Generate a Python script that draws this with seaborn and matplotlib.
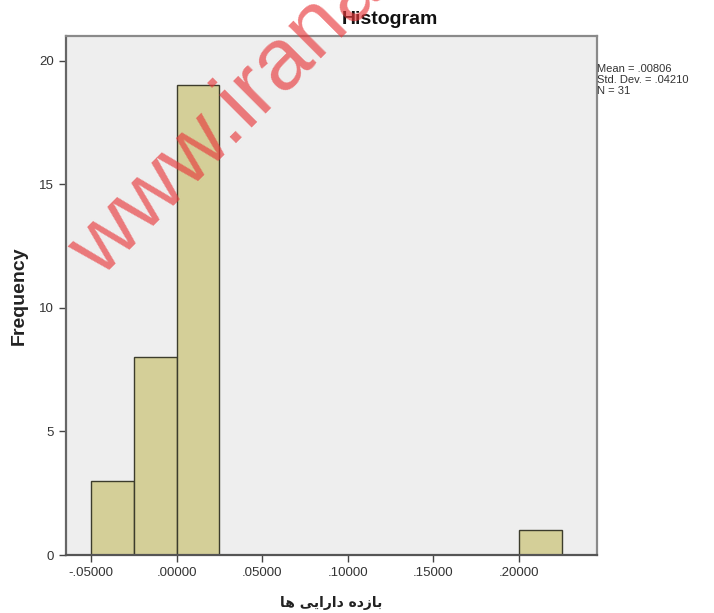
import numpy as np
import pandas as pd
import matplotlib
matplotlib.use("Agg")
import matplotlib.pyplot as plt
import seaborn as sns

# Histogram of asset returns (bin edges and counts per bin)
bin_edges = [-0.05, -0.025, 0.0, 0.025, 0.05, 0.075, 0.1, 0.125, 0.15, 0.175, 0.2, 0.225]
bin_counts = [3, 8, 19, 0, 0, 0, 0, 0, 0, 0, 1]
x_ticks = [-0.05, 0.0, 0.05, 0.10, 0.15, 0.20]
x_tick_labels = ["-.05000", ".00000", ".05000", ".10000", ".15000", ".20000"]
y_ticks = [0, 5, 10, 15, 20]
stats_lines = ["Mean = .00806", "Std. Dev. = .04210", "N = 31"]
# "بازده دارایی ها" in presentation forms, visual left-to-right order
x_label = "\uFE8E\uFEEB \uFBFD\uFBFE\uFE8D\uFEAD\uFE8D\uFEA9 \uFEE9\uFEA9\uFEAF\uFE8E\uFE91"

centers = [(a + b) / 2 for a, b in zip(bin_edges[:-1], bin_edges[1:])]
df = pd.DataFrame({"value": centers, "count": bin_counts})

sns.set_style("white")
plt.rcParams["font.family"] = ["Liberation Sans", "DejaVu Sans"]

fig = plt.figure(figsize=(7.14, 6.13), dpi=100)
ax = fig.add_axes([66 / 714, 1 - 555 / 613, (597 - 66) / 714, (555 - 36) / 613])
ax.set_facecolor("#eeeeee")

sns.histplot(data=df, x="value", weights="count", bins=bin_edges, ax=ax,
             color="#d4cf98", edgecolor="#3c3c2c", linewidth=1.0, alpha=1.0)

ax.set_xlim(-0.0646, 0.2456)
ax.set_ylim(0, 21.0)
ax.set_xticks(x_ticks)
ax.set_xticklabels(x_tick_labels)
ax.set_yticks(y_ticks)
ax.tick_params(axis="both", direction="out", length=5, width=1.0, color="#444444",
               labelsize=9.5, labelcolor="#333333", left=True, bottom=True)
for side in ["left", "right", "top", "bottom"]:
    ax.spines[side].set_visible(True)
    ax.spines[side].set_color("#8a8a8a")
    ax.spines[side].set_linewidth(1.6)
ax.spines["bottom"].set_color("#555555")
ax.spines["left"].set_color("#666666")

ax.set_xlabel(x_label, fontsize=10, fontweight="bold",
              family=["DejaVu Sans"], color="#222222")
ax.xaxis.set_label_coords(0.5, -0.079)
ax.set_ylabel("Frequency", fontsize=14, fontweight="bold", color="#222222")
ax.yaxis.set_label_coords(-0.072, 0.5)

fig.text(390 / 714, 1 - 19 / 613, "Histogram", ha="center", va="center",
         fontsize=14, fontweight="bold", color="#111111")
fig.text(597 / 714, 1 - 64 / 613, "\n".join(stats_lines), ha="left", va="top",
         fontsize=8, color="#333333", linespacing=1.15)

fig.text(100 / 714, 1 - 279 / 613, "www.iranarticles.ir", rotation=45,
         rotation_mode="anchor", ha="left", va="baseline", fontsize=63,
         color="#e8393c", alpha=0.65)

fig.savefig("out.png", dpi=100)
